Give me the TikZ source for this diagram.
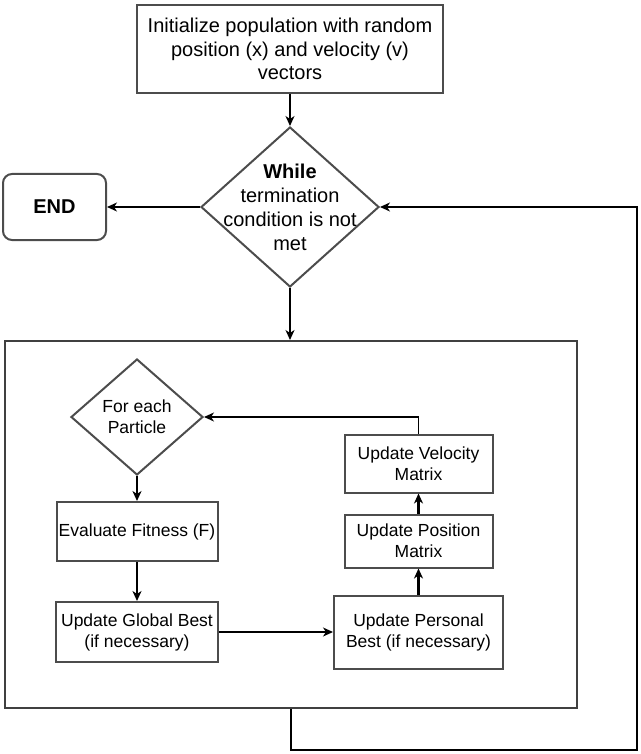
\documentclass[tikz,border=0pt]{standalone}
\usepackage{fontspec}
\setmainfont{Liberation Sans}
\usetikzlibrary{arrows.meta,positioning,shapes.geometric}

\begin{document}
\begin{tikzpicture}[x=1pt,y=-1pt,>={Stealth[length=10pt,width=9pt,inset=3pt]}]
        \tikzset{block/.style={draw=black!70, line width=2pt, rectangle, align=center, inner sep=2pt, font=\fontsize{17.5}{21}\selectfont},
        bigblock/.style={block, font=\fontsize{20}{23.5}\selectfont},
        rblock/.style={bigblock, rounded corners=9pt},
        decision/.style={draw=black!70, line width=2pt, diamond, inner sep=0pt},
        frame/.style={draw=black!75, line width=2pt, rectangle, inner sep=0pt},
        line/.style={draw, line width=1.4pt},
        heavyline/.style={draw, line width=2.2pt},
        }
        \useasboundingbox (0,0) rectangle (640,754);
        \node [bigblock, minimum width=306pt, minimum height=88pt] (init) at (290,49) {Initialize population with random\\position (x) and velocity (v)\\vectors};
        \node [decision, minimum width=178pt, minimum height=160pt, below=32pt of init,
               label={[align=center, font=\fontsize{20}{24}\selectfont]center:\textbf{While}\\termination\\condition is not\\met}] (cond) {};
        \node [rblock, minimum width=103pt, minimum height=66pt, left=93pt of cond] (finish) {\textbf{END}};
        \node [frame, minimum width=572pt, minimum height=367pt, below=52pt of cond, xshift=1pt] (swarm) {};
        \node [decision, minimum width=132pt, minimum height=116pt,
               label={[align=center, font=\fontsize{17.5}{21}\selectfont]center:For each\\Particle}] (each) at (137,417) {};
        \node [block, minimum width=161pt, minimum height=59pt, below=25pt of each] (fitness) {Evaluate Fitness (F)};
        \node [block, minimum width=162pt, minimum height=60pt, below=39pt of fitness] (gbest) {Update Global Best\\(if necessary)};
        \node [block, minimum width=169pt, minimum height=73pt, right=114pt of gbest] (pbest) {Update Personal\\Best (if necessary)};
        \node [block, minimum width=148pt, minimum height=53pt, above=26pt of pbest] (position) {Update Position\\Matrix};
        \node [block, minimum width=148pt, minimum height=58pt, above=20pt of position] (velocity) {Update Velocity\\Matrix};
        \coordinate (entry) at (cond.south |- swarm.north);  %% where the loop body is entered
        \coordinate (corner) at (637,750);  %% bottom right turn of the loop back

%% paths
        \path[line,->] (init) edge (cond)
                    (cond) edge (finish)
                    (cond) edge (entry)
                    (gbest) edge (pbest)
                    ;
        \path[heavyline,->] (each) edge (fitness)
                    (fitness) edge (gbest)
                    (pbest) edge (position)
                    (position) edge (velocity)
                    ;
        \draw[line,->] (velocity.north) |- (each.east);
        \draw[line,->] (swarm.south) |- (corner) |- (cond.east);
\end{tikzpicture}
\end{document}
